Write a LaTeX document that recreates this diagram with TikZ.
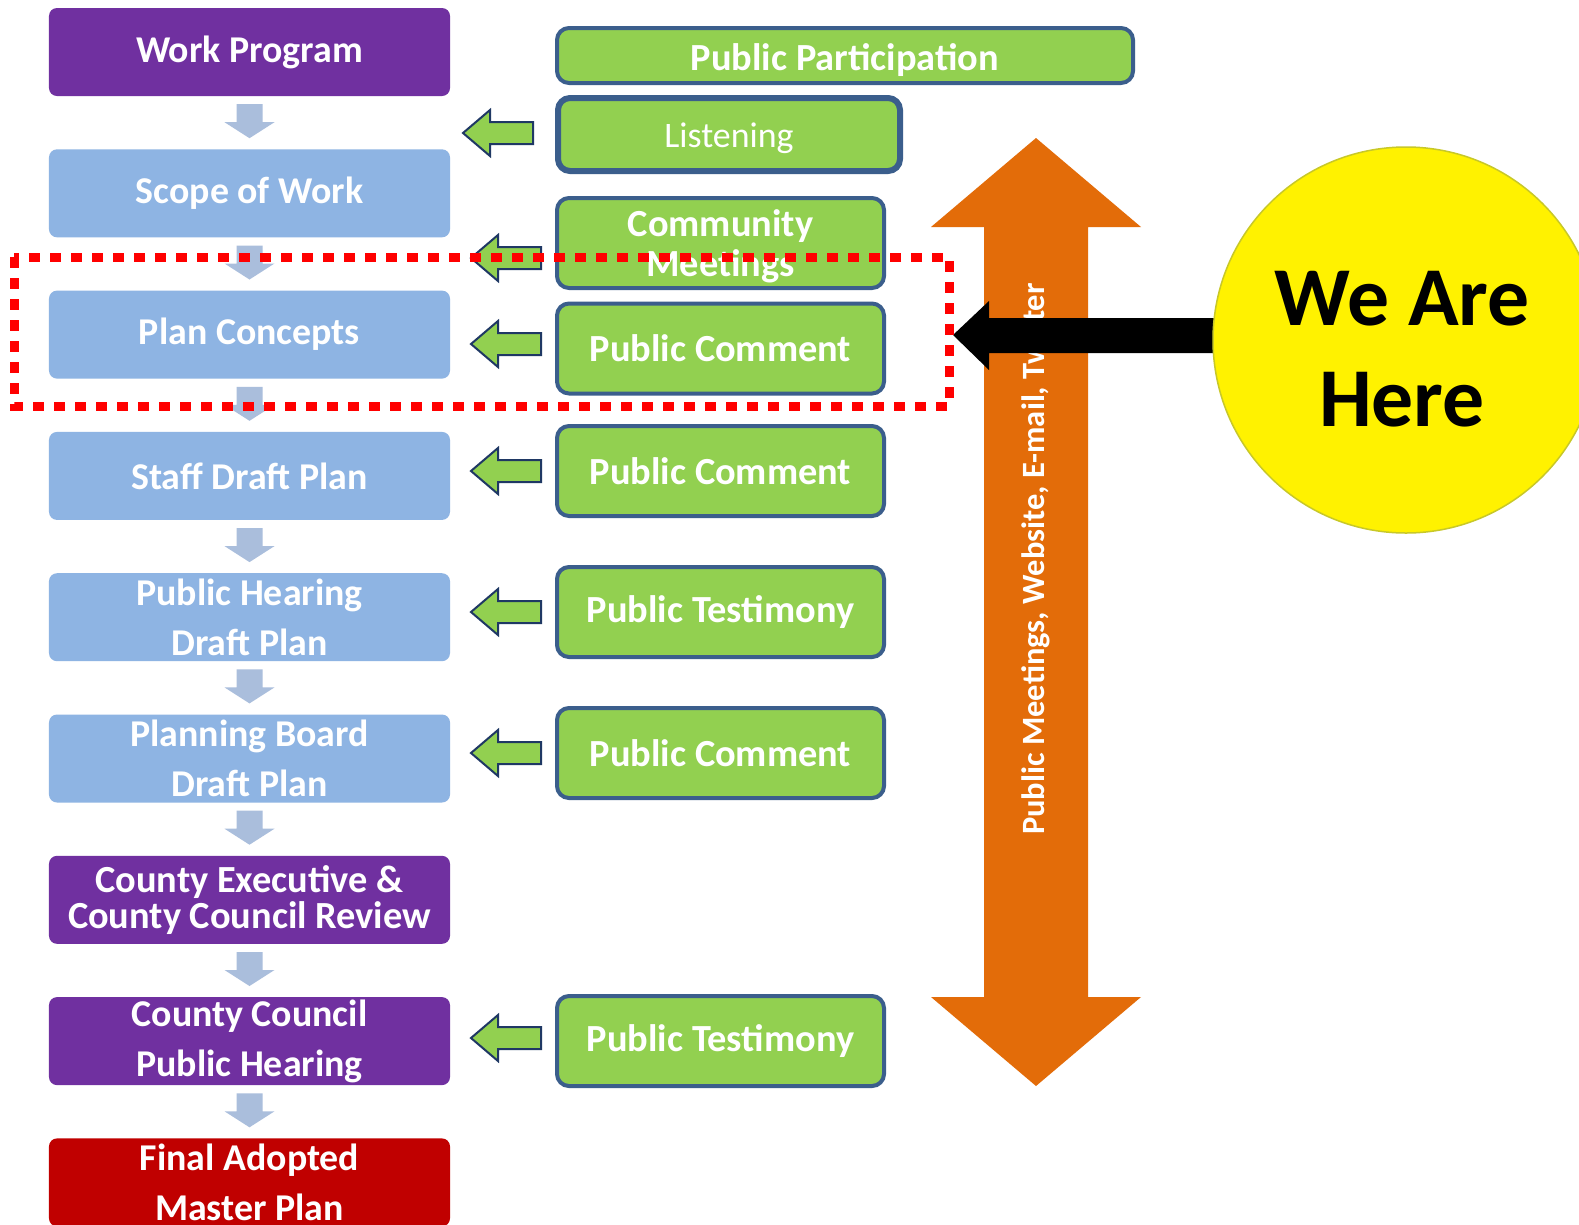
\documentclass[tikz,border=0pt]{standalone}
\usepackage{fontspec}
\setmainfont{Carlito}
\usetikzlibrary{calc}
\definecolor{purp}{HTML}{7030A0}
\definecolor{lblue}{HTML}{8EB4E3}
\definecolor{dred}{HTML}{C00000}
\definecolor{grn}{HTML}{92D050}
\definecolor{gborder}{HTML}{3B5E8C}
\definecolor{orng}{HTML}{E36C09}
\definecolor{darr}{HTML}{AABEDC}
\definecolor{arrborder}{HTML}{1F3864}
\definecolor{redline}{HTML}{FF0000}
\begin{document}
\begin{tikzpicture}[x=1bp,y=-1bp,
  stage/.style={rounded corners=8bp, minimum width=401bp, minimum height=88bp, text=white,
    font=\fontsize{38}{50}\selectfont\bfseries, align=center, inner sep=0pt},
  gbox/.style={rounded corners=12bp, fill=grn, draw=gborder, line width=4bp, text=white,
    minimum width=327bp, minimum height=90bp, font=\fontsize{38.5}{40}\selectfont\bfseries,
    align=center, inner sep=0pt},
  downarr/.pic={\fill[darr] (-13,0) -- (13,0) -- (13,18) -- (25,18) -- (0,34) -- (-25,18) -- (-13,18) -- cycle;},
  leftarr/.pic={\filldraw[fill=grn, draw=arrborder, line width=2bp, line join=miter]
      (0,0) -- (27,-23) -- (27,-11) -- (70,-11) -- (70,11) -- (27,11) -- (27,23) -- cycle;}
]
\useasboundingbox (0,0) rectangle (1579,1224);
\fill[white] (0,0) rectangle (1579,1224);

% left column stages
\node[stage, fill=purp]  (s0) at (249.5,52)    {Work Program};
\node[stage, fill=lblue] (s1) at (249.5,193.3) {Scope of Work};
\node[stage, fill=lblue] (s2) at (249.5,334.6) {Plan Concepts};
\node[stage, fill=lblue] (s3) at (249.5,475.9) {Staff Draft Plan};
\node[stage, fill=lblue] (s4) at (249.5,617.2) {Public Hearing\\Draft Plan};
\node[stage, fill=lblue] (s5) at (249.5,758.5) {Planning Board\\Draft Plan};
\node[stage, fill=purp, font=\fontsize{38.5}{36}\selectfont\bfseries] (s6) at (249.5,899.8) {County Executive \&\\County Council Review};
\node[stage, fill=purp]  (s7) at (249.5,1041.1) {County Council\\Public Hearing};
\node[stage, fill=dred]  (s8) at (249.5,1182.4) {Final Adopted\\Master Plan};

% down arrows between stages
\foreach \a in {0,...,7}{
  \path (s\a.south) ++(0,8) coordinate (d\a);
  \pic at (d\a) {downarr};
}

% orange double arrow
\fill[orng] (1036,138) -- (1141,227) -- (1088,227) -- (1088,997) -- (1141,997) -- (1036,1086)
  -- (931,997) -- (984,997) -- (984,227) -- (931,227) -- cycle;
\node[rotate=90, text=white, font=\fontsize{32.6}{36}\selectfont\bfseries, inner sep=0pt] (channels)
  at (1036,559) {Public Meetings, Website, E-mail, Twitter};

% green boxes
\node[gbox, minimum width=576bp, minimum height=55bp, text depth=0pt] (pp) at (845,55.5) {\raisebox{-3bp}{Public Participation}};
\node[gbox, line width=6bp, minimum width=342bp, minimum height=73bp, text depth=0pt,
  font=\fontsize{36}{40}\selectfont] (lis) at (729,134.5) {\raisebox{-1bp}{Listening}};
\node[gbox] (cm)  at (720.5,243) {};
\node[text=white, font=\fontsize{38.5}{40}\selectfont\bfseries, align=center, inner sep=0pt]
  (cmtext) at (720.5,246) {Community\\Meetings};
\node[gbox] (pc1) at (720.5,348.5) {Public Comment};
\node[gbox] (pc2) at (720.5,471) {Public Comment};
\node[gbox] (pt1) at (720.5,612) {Public Testimony};
\node[gbox] (pc3) at (720.5,753) {Public Comment};
\node[gbox] (pt2) at (720.5,1041) {Public Testimony};

% green left arrows
\pic at (463,133) {leftarr};
\pic at (471,258) {leftarr};
\pic at (471,344) {leftarr};
\pic at (471,471) {leftarr};
\pic at (471,612) {leftarr};
\pic at (471,753) {leftarr};
\pic at (471,1038) {leftarr};

% black pointer arrow and circle
\fill[black] (953,335) -- (989,301) -- (989,318) -- (1260,318) -- (1260,353) -- (989,353) -- (989,370) -- cycle;
\node[circle, fill=yellow, draw={rgb,255:red,200;green,200;blue,40}, line width=1.5bp,
  minimum size=386bp, inner sep=0pt] (here) at (1406,340) {};
\node[font=\fontsize{84}{102}\selectfont\bfseries, align=center, inner sep=0pt] (heretext)
  at (1402,349) {We Are\\Here};

% red dotted focus rectangle
\draw[redline, line width=9bp, dash pattern=on 11bp off 10bp] (14,257) rectangle (949,406);
\end{tikzpicture}
\end{document}
